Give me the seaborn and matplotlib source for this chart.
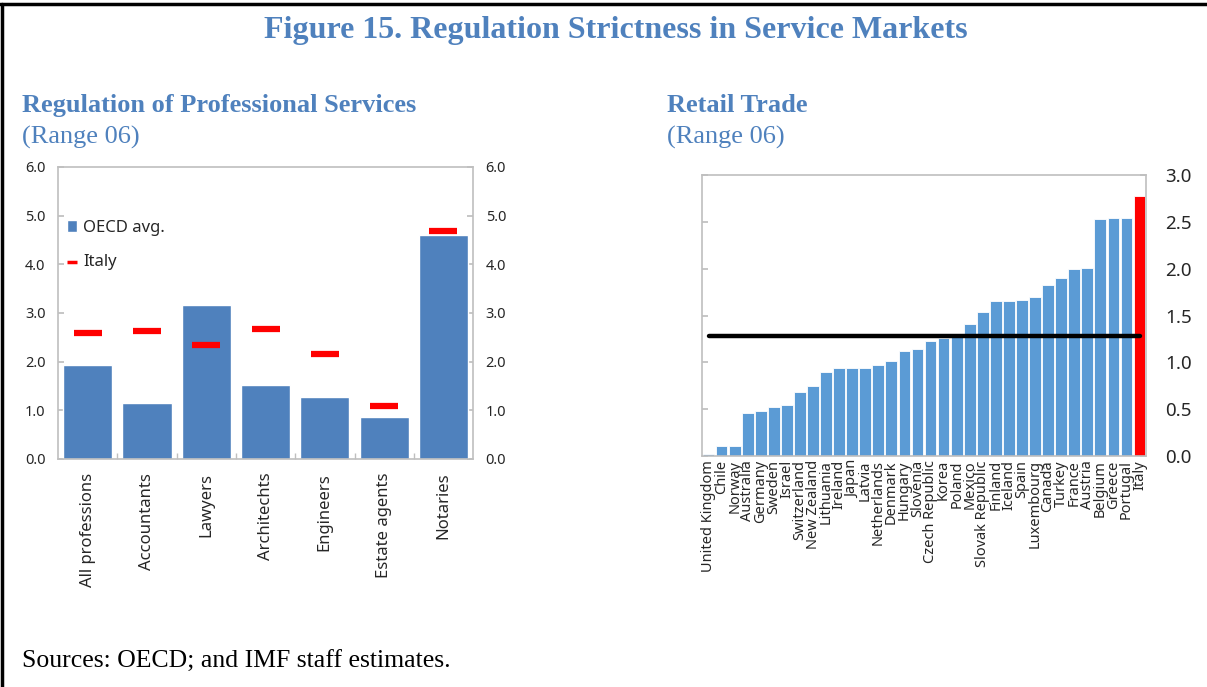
import matplotlib
matplotlib.use("Agg")
import pandas as pd
import seaborn as sns
from matplotlib import pyplot as plt
from matplotlib.lines import Line2D

# 数据 Professional services
professions = ["All professions", "Accountants", "Lawyers", "Architechts",
               "Engineers", "Estate agents", "Notaries"]
oecd_prof = [1.93, 1.14, 3.16, 1.51, 1.28, 0.86, 4.60]
italy_prof = [2.58, 2.62, 2.34, 2.68, 2.16, 1.08, 4.69]

# 数据 Retail trade
countries = ["United Kingdom", "Chile", "Norway", "Australia", "Germany", "Sweden",
             "Israel", "Switzerland", "New Zealand", "Lithuania", "Ireland", "Japan",
             "Latvia", "Netherlands", "Denmark", "Hungary", "Slovenia", "Czech Republic",
             "Korea", "Poland", "Mexico", "Slovak Republic", "Finland", "Iceland", "Spain",
             "Luxembourg", "Canada", "Turkey", "France", "Austria", "Belgium", "Greece",
             "Portugal", "Italy"]
retail = [0.02, 0.11, 0.11, 0.46, 0.48, 0.52, 0.55, 0.68, 0.75, 0.90, 0.94, 0.94,
          0.94, 0.97, 1.01, 1.12, 1.14, 1.23, 1.26, 1.28, 1.41, 1.54, 1.65, 1.65, 1.67,
          1.70, 1.83, 1.90, 2.00, 2.01, 2.53, 2.54, 2.54, 2.78]
retail_oecd_avg = 1.28

blue_dark = "#4F81BD"
blue_light = "#5B9BD5"
title_col = "#4F81BD"
grey = "#BFBFBF"

sns.set_theme(style="white")
plt.rcParams["font.family"] = ["Noto Sans", "DejaVu Sans"]

fig = plt.figure(figsize=(12.07, 6.87), dpi=100)

# 1 左图
ax1 = fig.add_axes([0.048, 0.332, 0.344, 0.425])
prof_df = pd.DataFrame({"prof": professions, "oecd": oecd_prof, "italy": italy_prof})
sns.barplot(data=prof_df, x="prof", y="oecd", color=blue_dark, saturation=1,
            width=0.83, label="OECD avg.", ax=ax1)
sns.scatterplot(data=prof_df, x="prof", y="italy", marker="_", s=420, color="red",
                linewidth=4.5, label="Italy", ax=ax1, zorder=3)
ax1.set_xlim(-0.5, len(professions) - 0.5)
ax1.set_ylim(0, 6)
ax1.set_yticks([0, 1, 2, 3, 4, 5, 6])
ax1.set_yticklabels([f"{v:.1f}" for v in range(7)])
ax1.set_xlabel("")
ax1.set_ylabel("")
ax1.set_xticks(range(len(professions)))
ax1.set_xticklabels(professions, rotation=90, fontsize=12)
ax1.set_xticks([i + 0.5 for i in range(len(professions) - 1)], minor=True)
ax1.tick_params(axis="x", which="major", length=0, pad=10)
ax1.tick_params(axis="x", which="minor", bottom=True, direction="in", length=4, color=grey)
ax1.tick_params(axis="y", left=True, right=True, labelleft=True, labelright=True,
                direction="in", length=4, color=grey, labelsize=10.5, pad=9)
for s in ax1.spines.values():
    s.set_color(grey)
    s.set_linewidth(1.2)
h, l = ax1.get_legend_handles_labels()
order = [l.index("OECD avg."), l.index("Italy")]
leg = ax1.legend([h[i] for i in order], [l[i] for i in order],
                 loc="upper left", bbox_to_anchor=(-0.015, 0.87), frameon=False, fontsize=12,
                 handlelength=0.6, handletextpad=0.4, labelspacing=1.1, markerscale=0.35)
leg.legend_handles[1].set_linewidth(2.5)

# 2 右图
ax2 = fig.add_axes([0.5816, 0.3362, 0.3679, 0.4091])
retail_df = pd.DataFrame({"country": countries, "value": retail})
bar_cols = [blue_light] * (len(countries) - 1) + ["#FF0000"]
sns.barplot(data=retail_df, x="country", y="value", hue="country", palette=bar_cols,
            saturation=1, width=0.9, edgecolor="white", linewidth=0.6, legend=False, ax=ax2)
avg_df = pd.DataFrame({"country": countries, "avg": [retail_oecd_avg] * len(countries)})
sns.lineplot(data=avg_df, x="country", y="avg", color="black", linewidth=3.2,
             solid_capstyle="round", ax=ax2, zorder=4)
ax2.set_xlim(-0.5, len(countries) - 0.5)
ax2.set_ylim(0, 3)
ax2.set_yticks([0, 0.5, 1, 1.5, 2, 2.5, 3])
ax2.set_yticklabels([f"{v:.1f}" for v in [0, 0.5, 1, 1.5, 2, 2.5, 3]])
ax2.set_xlabel("")
ax2.set_ylabel("")
ax2.set_xticks(range(len(countries)))
ax2.set_xticklabels(countries, rotation=90, fontsize=10.5)
ax2.tick_params(axis="x", length=0, pad=3)
ax2.tick_params(axis="y", left=True, right=True, labelleft=False, labelright=True,
                direction="in", length=4, color=grey, labelsize=13.5, pad=14)
for s in ax2.spines.values():
    s.set_color(grey)
    s.set_linewidth(1.2)

# 3 标题和注释
fig.text(0.51, 0.955, "Figure 15. Regulation Strictness in Service Markets",
         ha="center", va="center", family="Liberation Serif", weight="bold",
         fontsize=23, color=title_col)
fig.text(0.018, 0.847, "Regulation of Professional Services", ha="left", va="center",
         family="Liberation Serif", weight="bold", fontsize=19, color=title_col)
fig.text(0.018, 0.800, "(Range 06)", ha="left", va="center",
         family="Liberation Serif", fontsize=19, color=title_col)
fig.text(0.553, 0.847, "Retail Trade", ha="left", va="center",
         family="Liberation Serif", weight="bold", fontsize=19, color=title_col)
fig.text(0.553, 0.800, "(Range 06)", ha="left", va="center",
         family="Liberation Serif", fontsize=19, color=title_col)
fig.text(0.018, 0.036, "Sources: OECD; and IMF staff estimates.", ha="left", va="center",
         family="Liberation Serif", fontsize=18.5, color="black")

# 边框
fig.add_artist(Line2D([0, 1], [0.9935, 0.9935], transform=fig.transFigure, color="black", lw=2.5))
fig.add_artist(Line2D([0.002, 0.002], [0, 0.9935], transform=fig.transFigure, color="black", lw=2.5))

fig.savefig("out.png", dpi=100, facecolor="white")
